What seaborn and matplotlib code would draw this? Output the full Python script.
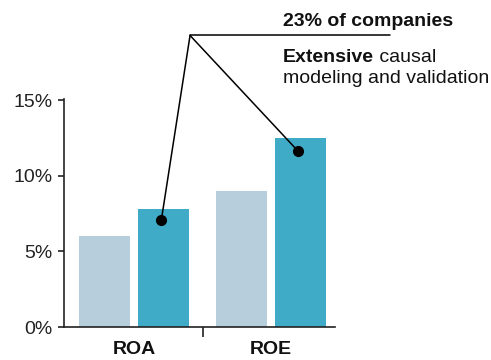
import seaborn as sns
import pandas as pd
import matplotlib.pyplot as plt
from matplotlib.ticker import FuncFormatter

sns.set_style("white")
plt.rcParams['font.family'] = ['Liberation Sans', 'DejaVu Sans']

# data
metrics = ["ROA", "ROE"]
baseline = [6.0, 9.0]
extensive = [7.8, 12.5]
dot_values = [7.1, 11.6]
yticks = [0, 5, 10, 15]

light = "#b7cfdd"
dark = "#40abc7"

df = pd.DataFrame({
    "metric": metrics * 2,
    "group": ["Other"] * 2 + ["Extensive"] * 2,
    "value": baseline + extensive,
})

fig = plt.figure(figsize=(4.91, 3.6), dpi=100)
ax = fig.add_axes([64 / 491, (360 - 327) / 360, 271 / 491, 228 / 360])

sns.barplot(data=df, x="metric", y="value", hue="group",
            palette=[light, dark], saturation=1, width=0.86, gap=0.135,
            linewidth=0, legend=False, ax=ax)

ax.set_xlim(-0.511, 1.467)
ax.set_ylim(0, 15.07)
ax.set_yticks(yticks)
ax.yaxis.set_major_formatter(FuncFormatter(lambda v, p: f"{v:.0f}%"))
ax.tick_params(axis="y", left=True, length=4.5, width=1.2, labelsize=14,
               color="#222222", labelcolor="#222222", pad=3.5)
ax.tick_params(axis="x", bottom=False, length=0, labelsize=14, pad=10,
               labelcolor="#111111")
for lbl in ax.get_xticklabels():
    lbl.set_fontweight("bold")
ax.set_xticks([0.5], minor=True)
ax.tick_params(axis="x", which="minor", bottom=True, length=7, width=1.2,
               color="#222222", direction="out")
ax.set_xlabel("")
ax.set_ylabel("")
sns.despine(ax=ax)
for side in ["left", "bottom"]:
    ax.spines[side].set_linewidth(1.2)
    ax.spines[side].set_color("#222222")

# callout lines from a common apex to the dots on the "Extensive" bars
dot_x = [0.2, 1.2]
apex = (0.409, 19.27)
for x, y in zip(dot_x, dot_values):
    ax.plot([apex[0], x], [apex[1], y], color="black", lw=1.1,
            clip_on=False, zorder=5)
ax.plot(dot_x, dot_values, "o", color="black", ms=7, clip_on=False, zorder=6)
ax.plot([apex[0], 1.869], [apex[1], apex[1]], color="black", lw=1.1,
        clip_on=False)

tx = 1.087
ax.text(tx, 19.9, "23% of companies", fontsize=14, fontweight="bold",
        va="baseline", ha="left", color="#111111")
t1 = ax.text(tx, 17.5, "Extensive", fontsize=14, fontweight="bold",
             va="baseline", ha="left", color="#111111")
ax.annotate(" causal", xy=(1, 0), xycoords=t1, va="bottom", ha="left",
            fontsize=14, color="#111111")
ax.text(tx, 16.15, "modeling and validation", fontsize=14,
        va="baseline", ha="left", color="#111111")

fig.savefig("out.png", dpi=100)
